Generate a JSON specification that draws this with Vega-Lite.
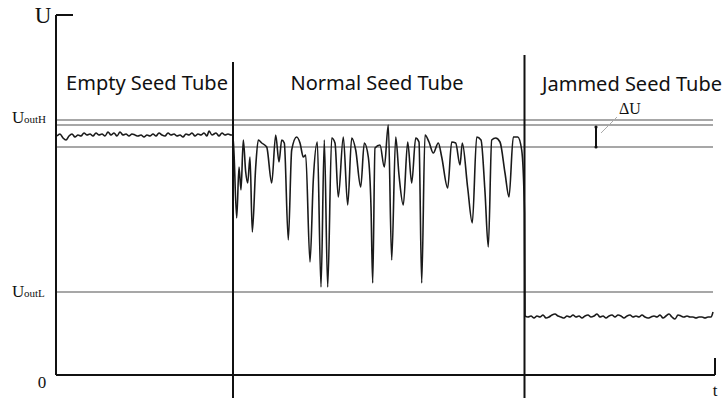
{
  "$schema": "https://vega.github.io/schema/vega-lite/v6.json",
  "width": 659,
  "height": 360,
  "autosize": {"type": "none"},
  "padding": {"left": 56, "top": 15, "right": 10, "bottom": 23},
  "background": "white",
  "config": {"view": {"stroke": null}},
  "datasets": {
    "signal": [
      {"t":0.1,"U":2.39},{"t":0.4,"U":2.41},{"t":0.7,"U":2.37},{"t":1.0,"U":2.35},{"t":1.3,"U":2.39},{"t":1.6,"U":2.41},{"t":1.9,"U":2.38},{"t":2.2,"U":2.40},{"t":2.5,"U":2.39},{"t":2.8,"U":2.42},{"t":3.1,"U":2.40},{"t":3.4,"U":2.41},{"t":3.7,"U":2.39},{"t":4.0,"U":2.42},{"t":4.3,"U":2.40},{"t":4.6,"U":2.41},{"t":4.9,"U":2.39},{"t":5.2,"U":2.43},{"t":5.5,"U":2.40},{"t":5.8,"U":2.42},{"t":6.1,"U":2.39},{"t":6.4,"U":2.43},{"t":6.7,"U":2.40},{"t":7.0,"U":2.41},{"t":7.3,"U":2.39},{"t":7.6,"U":2.41},{"t":7.9,"U":2.40},{"t":8.2,"U":2.39},{"t":8.5,"U":2.40},{"t":8.8,"U":2.38},{"t":9.1,"U":2.40},{"t":9.4,"U":2.39},{"t":9.7,"U":2.41},{"t":10.0,"U":2.39},{"t":10.3,"U":2.42},{"t":10.6,"U":2.40},{"t":10.9,"U":2.39},{"t":11.2,"U":2.42},{"t":11.5,"U":2.40},{"t":11.8,"U":2.41},{"t":12.1,"U":2.39},{"t":12.4,"U":2.40},{"t":12.7,"U":2.38},{"t":13.0,"U":2.41},{"t":13.3,"U":2.40},{"t":13.6,"U":2.42},{"t":13.9,"U":2.39},{"t":14.2,"U":2.41},{"t":14.5,"U":2.40},{"t":14.8,"U":2.42},{"t":15.1,"U":2.39},{"t":15.3,"U":2.44},{"t":15.6,"U":2.40},{"t":16.0,"U":2.42},{"t":16.3,"U":2.39},{"t":16.6,"U":2.42},{"t":16.9,"U":2.40},{"t":17.2,"U":2.41},{"t":17.5,"U":2.40},{"t":17.7,"U":2.40},
      {"t":18.07,"U":1.57},{"t":18.30,"U":2.08},{"t":18.50,"U":1.85},{"t":18.73,"U":2.35},{"t":18.97,"U":2.03},{"t":19.17,"U":1.92},{"t":19.40,"U":2.18},{"t":19.63,"U":1.43},{"t":19.97,"U":2.08},{"t":20.23,"U":2.35},{"t":20.57,"U":2.32},{"t":21.07,"U":2.28},{"t":21.57,"U":1.92},{"t":21.97,"U":2.40},{"t":22.30,"U":2.13},{"t":22.57,"U":2.35},{"t":22.83,"U":2.32},{"t":23.23,"U":1.35},{"t":23.57,"U":2.25},{"t":24.07,"U":2.38},{"t":24.40,"U":2.32},{"t":24.73,"U":2.18},{"t":24.97,"U":2.20},{"t":25.40,"U":1.13},{"t":25.73,"U":1.95},{"t":26.13,"U":2.33},{"t":26.50,"U":0.88},{"t":26.83,"U":2.35},{"t":27.17,"U":0.88},{"t":27.57,"U":2.37},{"t":27.90,"U":2.32},{"t":28.23,"U":1.78},{"t":28.73,"U":2.38},{"t":29.17,"U":1.70},{"t":29.57,"U":2.37},{"t":29.97,"U":2.25},{"t":30.47,"U":1.88},{"t":30.83,"U":2.32},{"t":31.23,"U":2.18},{"t":31.50,"U":1.68},{"t":31.67,"U":0.92},{"t":31.90,"U":2.27},{"t":32.40,"U":2.30},{"t":32.83,"U":2.08},{"t":33.23,"U":2.50},{"t":33.57,"U":1.15},{"t":33.97,"U":2.38},{"t":34.30,"U":2.00},{"t":34.73,"U":1.70},{"t":35.17,"U":2.33},{"t":35.57,"U":1.92},{"t":35.97,"U":2.37},{"t":36.30,"U":2.33},{"t":36.57,"U":0.92},{"t":36.90,"U":2.40},{"t":37.30,"U":2.33},{"t":37.73,"U":2.22},{"t":38.23,"U":2.32},{"t":38.57,"U":2.18},{"t":39.17,"U":1.87},{"t":39.57,"U":2.33},{"t":39.97,"U":2.32},{"t":40.40,"U":2.10},{"t":40.63,"U":2.32},{"t":41.17,"U":1.87},{"t":41.63,"U":1.52},{"t":42.07,"U":2.38},{"t":42.50,"U":2.35},{"t":42.90,"U":1.83},{"t":43.23,"U":1.28},{"t":43.57,"U":2.35},{"t":43.97,"U":2.37},{"t":44.40,"U":2.33},{"t":44.90,"U":2.02},{"t":45.30,"U":1.78},{"t":45.73,"U":2.38},{"t":46.17,"U":2.38},{"t":46.57,"U":2.25},{"t":46.85,"U":1.62},
      {"t":46.9,"U":0.59},{"t":47.2,"U":0.58},{"t":47.5,"U":0.59},{"t":47.8,"U":0.57},{"t":48.1,"U":0.59},{"t":48.4,"U":0.58},{"t":48.7,"U":0.60},{"t":49.0,"U":0.57},{"t":49.3,"U":0.58},{"t":49.6,"U":0.60},{"t":49.9,"U":0.61},{"t":50.2,"U":0.59},{"t":50.5,"U":0.58},{"t":50.8,"U":0.57},{"t":51.1,"U":0.59},{"t":51.4,"U":0.58},{"t":51.7,"U":0.60},{"t":52.0,"U":0.58},{"t":52.3,"U":0.59},{"t":52.6,"U":0.57},{"t":52.9,"U":0.59},{"t":53.2,"U":0.60},{"t":53.5,"U":0.58},{"t":53.8,"U":0.59},{"t":54.1,"U":0.61},{"t":54.4,"U":0.58},{"t":54.7,"U":0.59},{"t":55.0,"U":0.57},{"t":55.3,"U":0.59},{"t":55.6,"U":0.60},{"t":55.9,"U":0.58},{"t":56.2,"U":0.60},{"t":56.5,"U":0.59},{"t":56.8,"U":0.57},{"t":57.1,"U":0.59},{"t":57.4,"U":0.60},{"t":57.7,"U":0.58},{"t":58.0,"U":0.59},{"t":58.3,"U":0.58},{"t":58.6,"U":0.60},{"t":58.9,"U":0.58},{"t":59.2,"U":0.57},{"t":59.5,"U":0.58},{"t":59.8,"U":0.59},{"t":60.1,"U":0.58},{"t":60.4,"U":0.60},{"t":60.7,"U":0.57},{"t":61.0,"U":0.59},{"t":61.3,"U":0.61},{"t":61.6,"U":0.58},{"t":61.9,"U":0.56},{"t":62.2,"U":0.60},{"t":62.5,"U":0.59},{"t":62.8,"U":0.58},{"t":63.1,"U":0.59},{"t":63.4,"U":0.58},{"t":63.7,"U":0.58},{"t":64.0,"U":0.57},{"t":64.3,"U":0.58},{"t":64.6,"U":0.58},{"t":64.9,"U":0.57},{"t":65.2,"U":0.58},{"t":65.5,"U":0.58},{"t":65.7,"U":0.63}
    ],
    "hlines": [
      {"t0":0,"t1":65.7,"U":2.55},
      {"t0":0,"t1":65.7,"U":2.50},
      {"t0":0,"t1":65.7,"U":2.28},
      {"t0":0,"t1":65.7,"U":0.83}
    ],
    "blackrules": [
      {"t0":17.7,"t1":17.7,"U0":-0.23,"U1":3.13},
      {"t0":46.85,"t1":46.85,"U0":-0.23,"U1":3.20},
      {"t0":0,"t1":0,"U0":0,"U1":3.6},
      {"t0":0,"t1":1.7,"U0":3.6,"U1":3.6},
      {"t0":0,"t1":65.9,"U0":0,"U1":0},
      {"t0":65.9,"t1":65.9,"U0":0,"U1":0.17},
      {"t0":54.0,"t1":54.0,"U0":2.28,"U1":2.48}
    ],
    "dudots": [{"t":54.0,"U":2.28},{"t":54.0,"U":2.48}],
    "leader": [{"t0":54.5,"t1":56.1,"U0":2.42,"U1":2.58}],
    "regions": [
      {"t":9.1,"U":2.915,"label":"Empty Seed Tube"},
      {"t":32.1,"U":2.91,"label":"Normal Seed Tube"},
      {"t":57.6,"U":2.90,"label":"Jammed Seed Tube"}
    ],
    "serifbig": [
      {"t":-1.3,"U":3.59,"label":"U","size":23},
      {"t":-1.4,"U":-0.08,"label":"0","size":17},
      {"t":65.9,"U":-0.155,"label":"t","size":17},
      {"t":57.4,"U":2.66,"label":"ΔU","size":16}
    ],
    "levelU": [
      {"t":-4.4,"U":2.52,"label":"U"},
      {"t":-4.4,"U":0.78,"label":"U"}
    ],
    "levelSub": [
      {"t":-3.2,"U":2.52,"label":"outH"},
      {"t":-3.2,"U":0.78,"label":"outL"}
    ]
  },
  "layer": [
    {
      "data": {"name": "hlines"},
      "mark": {"type": "rule", "color": "#8a8a8a", "strokeWidth": 1.3},
      "encoding": {
        "x": {"field": "t0", "type": "quantitative", "scale": {"domain": [0, 65.9], "nice": false, "zero": false}, "axis": null},
        "x2": {"field": "t1"},
        "y": {"field": "U", "type": "quantitative", "scale": {"domain": [0, 3.6], "nice": false, "zero": false}, "axis": null}
      }
    },
    {
      "data": {"name": "leader"},
      "mark": {"type": "rule", "color": "#aaaaaa", "strokeWidth": 1},
      "encoding": {
        "x": {"field": "t0", "type": "quantitative"},
        "x2": {"field": "t1"},
        "y": {"field": "U0", "type": "quantitative"},
        "y2": {"field": "U1"}
      }
    },
    {
      "data": {"name": "signal"},
      "mark": {"type": "line", "color": "#1a1a1a", "strokeWidth": 1.6, "interpolate": "monotone"},
      "encoding": {
        "x": {"field": "t", "type": "quantitative"},
        "y": {"field": "U", "type": "quantitative"}
      }
    },
    {
      "data": {"name": "blackrules"},
      "mark": {"type": "rule", "color": "#111111", "strokeWidth": 2},
      "encoding": {
        "x": {"field": "t0", "type": "quantitative"},
        "x2": {"field": "t1"},
        "y": {"field": "U0", "type": "quantitative"},
        "y2": {"field": "U1"}
      }
    },
    {
      "data": {"name": "dudots"},
      "mark": {"type": "circle", "color": "#111111", "size": 10, "opacity": 1},
      "encoding": {
        "x": {"field": "t", "type": "quantitative"},
        "y": {"field": "U", "type": "quantitative"}
      }
    },
    {
      "data": {"name": "regions"},
      "mark": {"type": "text", "font": "Noto Sans", "fontSize": 20, "color": "#111111", "align": "center", "baseline": "middle"},
      "encoding": {
        "x": {"field": "t", "type": "quantitative"},
        "y": {"field": "U", "type": "quantitative"},
        "text": {"field": "label"}
      }
    },
    {
      "data": {"name": "serifbig"},
      "mark": {"type": "text", "font": "Liberation Serif", "color": "#111111", "align": "center", "baseline": "middle"},
      "encoding": {
        "x": {"field": "t", "type": "quantitative"},
        "y": {"field": "U", "type": "quantitative"},
        "text": {"field": "label"},
        "size": {"field": "size", "type": "quantitative", "scale": null}
      }
    },
    {
      "data": {"name": "levelU"},
      "mark": {"type": "text", "font": "Liberation Serif", "fontSize": 17, "color": "#111111", "align": "left", "baseline": "alphabetic"},
      "encoding": {
        "x": {"field": "t", "type": "quantitative"},
        "y": {"field": "U", "type": "quantitative"},
        "text": {"field": "label"}
      }
    },
    {
      "data": {"name": "levelSub"},
      "mark": {"type": "text", "font": "Liberation Serif", "fontSize": 11, "color": "#111111", "align": "left", "baseline": "alphabetic"},
      "encoding": {
        "x": {"field": "t", "type": "quantitative"},
        "y": {"field": "U", "type": "quantitative"},
        "text": {"field": "label"}
      }
    }
  ]
}
